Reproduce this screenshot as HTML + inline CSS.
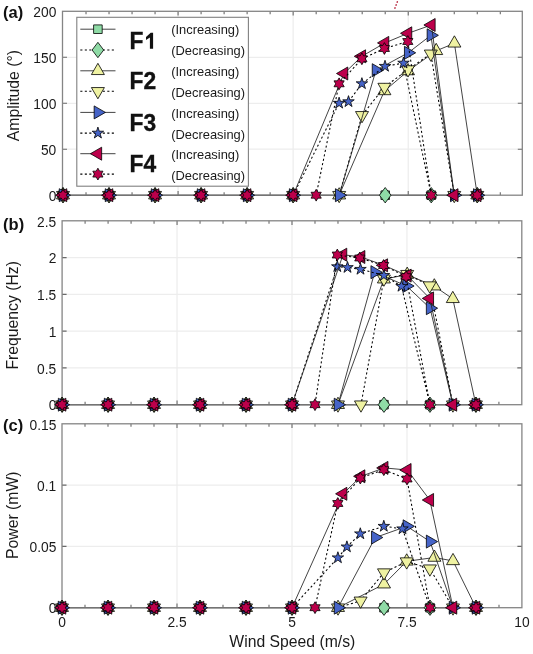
<!DOCTYPE html>
<html><head><meta charset="utf-8"><style>
html,body{margin:0;padding:0;background:#fff;width:533px;height:654px;overflow:hidden}
svg{display:block;filter:blur(0.3px);font-family:"Liberation Sans",sans-serif}
</style></head><body><svg width="533" height="654" viewBox="0 0 533 654" font-family="'Liberation Sans', sans-serif"><rect width="533" height="654" fill="#fff"/><path d="M178.07 11.3V195.2M293.15 11.3V195.2M408.23 11.3V195.2M62.5 149.22H522.3M62.5 103.25H522.3M62.5 57.28H522.3" stroke="#ededed" stroke-width="1.25" fill="none"/><path d="M177.05 220.8V404.7M292 220.8V404.7M406.95 220.8V404.7M62.1 367.92H521.8M62.1 331.14H521.8M62.1 294.36H521.8M62.1 257.58H521.8" stroke="#ededed" stroke-width="1.25" fill="none"/><path d="M177 423.8V607.7M292 423.8V607.7M407 423.8V607.7M62 546.4H521.9M62 485.1H521.9" stroke="#ededed" stroke-width="1.25" fill="none"/><path d="M86.02 11.3v3M86.02 195.2v-3M109.03 11.3v3M109.03 195.2v-3M132.05 11.3v3M132.05 195.2v-3M155.06 11.3v3M155.06 195.2v-3M178.07 11.3v4.2M178.07 195.2v-4.2M201.09 11.3v3M201.09 195.2v-3M224.11 11.3v3M224.11 195.2v-3M247.12 11.3v3M247.12 195.2v-3M270.13 11.3v3M270.13 195.2v-3M293.15 11.3v4.2M293.15 195.2v-4.2M316.17 11.3v3M316.17 195.2v-3M339.18 11.3v3M339.18 195.2v-3M362.19 11.3v3M362.19 195.2v-3M385.21 11.3v3M385.21 195.2v-3M408.23 11.3v4.2M408.23 195.2v-4.2M431.24 11.3v3M431.24 195.2v-3M454.25 11.3v3M454.25 195.2v-3M477.27 11.3v3M477.27 195.2v-3M500.29 11.3v3M500.29 195.2v-3M62.5 149.22h4.5M522.3 149.22h-4.5M62.5 103.25h4.5M522.3 103.25h-4.5M62.5 57.28h4.5M522.3 57.28h-4.5" stroke="#6a6a6a" stroke-width="1.1" fill="none"/><rect x="62.5" y="11.3" width="459.8" height="183.9" fill="none" stroke="#858585" stroke-width="1.3"/><path d="M62.5 195.2H477.27" stroke="#747474" stroke-width="1.4"/><path d="M85.09 220.8v3M85.09 404.7v-3M108.08 220.8v3M108.08 404.7v-3M131.07 220.8v3M131.07 404.7v-3M154.06 220.8v3M154.06 404.7v-3M177.05 220.8v4.2M177.05 404.7v-4.2M200.04 220.8v3M200.04 404.7v-3M223.03 220.8v3M223.03 404.7v-3M246.02 220.8v3M246.02 404.7v-3M269.01 220.8v3M269.01 404.7v-3M292 220.8v4.2M292 404.7v-4.2M314.99 220.8v3M314.99 404.7v-3M337.98 220.8v3M337.98 404.7v-3M360.97 220.8v3M360.97 404.7v-3M383.96 220.8v3M383.96 404.7v-3M406.95 220.8v4.2M406.95 404.7v-4.2M429.94 220.8v3M429.94 404.7v-3M452.93 220.8v3M452.93 404.7v-3M475.92 220.8v3M475.92 404.7v-3M498.91 220.8v3M498.91 404.7v-3M62.1 367.92h4.5M521.8 367.92h-4.5M62.1 331.14h4.5M521.8 331.14h-4.5M62.1 294.36h4.5M521.8 294.36h-4.5M62.1 257.58h4.5M521.8 257.58h-4.5" stroke="#6a6a6a" stroke-width="1.1" fill="none"/><rect x="62.1" y="220.8" width="459.7" height="183.9" fill="none" stroke="#858585" stroke-width="1.3"/><path d="M62.1 404.7H475.92" stroke="#747474" stroke-width="1.4"/><path d="M85 423.8v3M85 607.7v-3M108 423.8v3M108 607.7v-3M131 423.8v3M131 607.7v-3M154 423.8v3M154 607.7v-3M177 423.8v4.2M177 607.7v-4.2M200 423.8v3M200 607.7v-3M223 423.8v3M223 607.7v-3M246 423.8v3M246 607.7v-3M269 423.8v3M269 607.7v-3M292 423.8v4.2M292 607.7v-4.2M315 423.8v3M315 607.7v-3M338 423.8v3M338 607.7v-3M361 423.8v3M361 607.7v-3M384 423.8v3M384 607.7v-3M407 423.8v4.2M407 607.7v-4.2M430 423.8v3M430 607.7v-3M453 423.8v3M453 607.7v-3M476 423.8v3M476 607.7v-3M499 423.8v3M499 607.7v-3M62 546.4h4.5M521.9 546.4h-4.5M62 485.1h4.5M521.9 485.1h-4.5" stroke="#6a6a6a" stroke-width="1.1" fill="none"/><rect x="62" y="423.8" width="459.9" height="183.9" fill="none" stroke="#858585" stroke-width="1.3"/><path d="M62 607.7H476" stroke="#747474" stroke-width="1.4"/><g stroke="#000" stroke-width="0.8" stroke-linejoin="miter"><polygon points="58.7,190.9 67.3,190.9 67.3,199.5 58.7,199.5" fill="#8fdba6"/><polygon points="104.73,190.9 113.33,190.9 113.33,199.5 104.73,199.5" fill="#8fdba6"/><polygon points="150.76,190.9 159.36,190.9 159.36,199.5 150.76,199.5" fill="#8fdba6"/><polygon points="196.79,190.9 205.39,190.9 205.39,199.5 196.79,199.5" fill="#8fdba6"/><polygon points="242.82,190.9 251.42,190.9 251.42,199.5 242.82,199.5" fill="#8fdba6"/><polygon points="288.85,190.9 297.45,190.9 297.45,199.5 288.85,199.5" fill="#8fdba6"/><polygon points="380.91,190.9 389.51,190.9 389.51,199.5 380.91,199.5" fill="#8fdba6"/><polygon points="426.94,190.9 435.54,190.9 435.54,199.5 426.94,199.5" fill="#8fdba6"/><polygon points="472.97,190.9 481.57,190.9 481.57,199.5 472.97,199.5" fill="#8fdba6"/></g><g stroke="#000" stroke-width="0.8" stroke-linejoin="miter"><polygon points="477.27,187.5 483.07,195.2 477.27,202.9 471.47,195.2" fill="#8fdba6"/><polygon points="431.24,187.5 437.04,195.2 431.24,202.9 425.44,195.2" fill="#8fdba6"/><polygon points="385.21,187.5 391.01,195.2 385.21,202.9 379.41,195.2" fill="#8fdba6"/><polygon points="293.15,187.5 298.95,195.2 293.15,202.9 287.35,195.2" fill="#8fdba6"/><polygon points="247.12,187.5 252.92,195.2 247.12,202.9 241.32,195.2" fill="#8fdba6"/><polygon points="201.09,187.5 206.89,195.2 201.09,202.9 195.29,195.2" fill="#8fdba6"/><polygon points="155.06,187.5 160.86,195.2 155.06,202.9 149.26,195.2" fill="#8fdba6"/><polygon points="109.03,187.5 114.83,195.2 109.03,202.9 103.23,195.2" fill="#8fdba6"/><polygon points="63,187.5 68.8,195.2 63,202.9 57.2,195.2" fill="#8fdba6"/></g><polyline points="339.18,195.2 384.4,90.95 408,71 436.2,50.8 454.4,43.3 477.27,195.2" fill="none" stroke="#222" stroke-width="0.85"/><g stroke="#000" stroke-width="0.8" stroke-linejoin="miter"><polygon points="63,187.7 69.5,198.95 56.5,198.95" fill="#eff2a2"/><polygon points="109.03,187.7 115.53,198.95 102.53,198.95" fill="#eff2a2"/><polygon points="155.06,187.7 161.56,198.95 148.56,198.95" fill="#eff2a2"/><polygon points="201.09,187.7 207.59,198.95 194.59,198.95" fill="#eff2a2"/><polygon points="247.12,187.7 253.62,198.95 240.62,198.95" fill="#eff2a2"/><polygon points="293.15,187.7 299.65,198.95 286.65,198.95" fill="#eff2a2"/><polygon points="339.18,187.7 345.68,198.95 332.68,198.95" fill="#eff2a2"/><polygon points="384.4,83.45 390.9,94.7 377.9,94.7" fill="#eff2a2"/><polygon points="408,63.5 414.5,74.75 401.5,74.75" fill="#eff2a2"/><polygon points="436.2,43.3 442.7,54.55 429.7,54.55" fill="#eff2a2"/><polygon points="454.4,35.8 460.9,47.05 447.9,47.05" fill="#eff2a2"/><polygon points="477.27,187.7 483.77,198.95 470.77,198.95" fill="#eff2a2"/></g><polyline points="454.25,195.2 430.8,53.8 408,69.5 384.4,87.05 362,115.3 339.18,195.2" fill="none" stroke="#000" stroke-width="1.05" stroke-dasharray="2.1 2.4"/><g stroke="#000" stroke-width="0.8" stroke-linejoin="miter"><polygon points="477.27,202.7 470.77,191.45 483.77,191.45" fill="#eff2a2"/><polygon points="454.25,202.7 447.76,191.45 460.75,191.45" fill="#eff2a2"/><polygon points="430.8,61.3 424.3,50.05 437.3,50.05" fill="#eff2a2"/><polygon points="408,77 401.5,65.75 414.5,65.75" fill="#eff2a2"/><polygon points="384.4,94.55 377.9,83.3 390.9,83.3" fill="#eff2a2"/><polygon points="362,122.8 355.5,111.55 368.5,111.55" fill="#eff2a2"/><polygon points="339.18,202.7 332.68,191.45 345.68,191.45" fill="#eff2a2"/><polygon points="293.15,202.7 286.65,191.45 299.65,191.45" fill="#eff2a2"/><polygon points="247.12,202.7 240.62,191.45 253.62,191.45" fill="#eff2a2"/><polygon points="201.09,202.7 194.59,191.45 207.59,191.45" fill="#eff2a2"/><polygon points="155.06,202.7 148.56,191.45 161.56,191.45" fill="#eff2a2"/><polygon points="109.03,202.7 102.53,191.45 115.53,191.45" fill="#eff2a2"/><polygon points="63,202.7 56.5,191.45 69.5,191.45" fill="#eff2a2"/></g><polyline points="339.18,195.2 376,70.2 408.2,52.8 430.9,35.3 454.25,195.2" fill="none" stroke="#222" stroke-width="0.85"/><g stroke="#000" stroke-width="0.8" stroke-linejoin="miter"><polygon points="70.5,195.2 59.25,201.7 59.25,188.7" fill="#4664c8"/><polygon points="116.53,195.2 105.28,201.7 105.28,188.7" fill="#4664c8"/><polygon points="162.56,195.2 151.31,201.7 151.31,188.7" fill="#4664c8"/><polygon points="208.59,195.2 197.34,201.7 197.34,188.7" fill="#4664c8"/><polygon points="254.62,195.2 243.37,201.7 243.37,188.7" fill="#4664c8"/><polygon points="300.65,195.2 289.4,201.7 289.4,188.7" fill="#4664c8"/><polygon points="346.68,195.2 335.43,201.7 335.43,188.7" fill="#4664c8"/><polygon points="383.5,70.2 372.25,76.7 372.25,63.7" fill="#4664c8"/><polygon points="415.7,52.8 404.45,59.3 404.45,46.3" fill="#4664c8"/><polygon points="438.4,35.3 427.15,41.8 427.15,28.8" fill="#4664c8"/><polygon points="461.75,195.2 450.5,201.7 450.5,188.7" fill="#4664c8"/><polygon points="484.77,195.2 473.52,201.7 473.52,188.7" fill="#4664c8"/></g><polyline points="431.24,195.2 403.5,63.1 385,66.3 361.9,83.7 348.5,101.7 339.1,103.2 293.15,195.2" fill="none" stroke="#000" stroke-width="1.05" stroke-dasharray="2.1 2.4"/><g stroke="#000" stroke-width="0.8" stroke-linejoin="miter"><polygon points="477.27,189.15 478.63,193.33 483.02,193.33 479.47,195.91 480.83,200.09 477.27,197.51 473.71,200.09 475.07,195.91 471.52,193.33 475.91,193.33" fill="#4664c8"/><polygon points="454.25,189.15 455.61,193.33 460.01,193.33 456.45,195.91 457.81,200.09 454.25,197.51 450.7,200.09 452.06,195.91 448.5,193.33 452.9,193.33" fill="#4664c8"/><polygon points="403.5,57.05 404.86,61.23 409.25,61.23 405.7,63.81 407.06,67.99 403.5,65.41 399.94,67.99 401.3,63.81 397.75,61.23 402.14,61.23" fill="#4664c8"/><polygon points="385,60.25 386.36,64.43 390.75,64.43 387.2,67.01 388.56,71.19 385,68.61 381.44,71.19 382.8,67.01 379.25,64.43 383.64,64.43" fill="#4664c8"/><polygon points="361.9,77.65 363.26,81.83 367.65,81.83 364.1,84.41 365.46,88.59 361.9,86.01 358.34,88.59 359.7,84.41 356.15,81.83 360.54,81.83" fill="#4664c8"/><polygon points="348.5,95.65 349.86,99.83 354.25,99.83 350.7,102.41 352.06,106.59 348.5,104.01 344.94,106.59 346.3,102.41 342.75,99.83 347.14,99.83" fill="#4664c8"/><polygon points="339.1,97.15 340.46,101.33 344.85,101.33 341.3,103.91 342.66,108.09 339.1,105.51 335.54,108.09 336.9,103.91 333.35,101.33 337.74,101.33" fill="#4664c8"/><polygon points="293.15,189.15 294.51,193.33 298.9,193.33 295.35,195.91 296.71,200.09 293.15,197.51 289.59,200.09 290.95,195.91 287.4,193.33 291.79,193.33" fill="#4664c8"/><polygon points="247.12,189.15 248.48,193.33 252.87,193.33 249.32,195.91 250.68,200.09 247.12,197.51 243.56,200.09 244.92,195.91 241.37,193.33 245.76,193.33" fill="#4664c8"/><polygon points="201.09,189.15 202.45,193.33 206.84,193.33 203.29,195.91 204.65,200.09 201.09,197.51 197.53,200.09 198.89,195.91 195.34,193.33 199.73,193.33" fill="#4664c8"/><polygon points="155.06,189.15 156.42,193.33 160.81,193.33 157.26,195.91 158.62,200.09 155.06,197.51 151.5,200.09 152.86,195.91 149.31,193.33 153.7,193.33" fill="#4664c8"/><polygon points="109.03,189.15 110.39,193.33 114.78,193.33 111.23,195.91 112.59,200.09 109.03,197.51 105.47,200.09 106.83,195.91 103.28,193.33 107.67,193.33" fill="#4664c8"/><polygon points="63,189.15 64.36,193.33 68.75,193.33 65.2,195.91 66.56,200.09 63,197.51 59.44,200.09 60.8,195.91 57.25,193.33 61.64,193.33" fill="#4664c8"/></g><polyline points="293.15,195.2 344,73.5 361.8,56.3 385,42.9 408,33.3 431.4,25 454.25,195.2" fill="none" stroke="#222" stroke-width="0.85"/><g stroke="#000" stroke-width="0.8" stroke-linejoin="miter"><polygon points="55.5,195.2 66.75,188.7 66.75,201.7" fill="#bc004b"/><polygon points="101.53,195.2 112.78,188.7 112.78,201.7" fill="#bc004b"/><polygon points="147.56,195.2 158.81,188.7 158.81,201.7" fill="#bc004b"/><polygon points="193.59,195.2 204.84,188.7 204.84,201.7" fill="#bc004b"/><polygon points="239.62,195.2 250.87,188.7 250.87,201.7" fill="#bc004b"/><polygon points="285.65,195.2 296.9,188.7 296.9,201.7" fill="#bc004b"/><polygon points="336.5,73.5 347.75,67 347.75,80" fill="#bc004b"/><polygon points="354.3,56.3 365.55,49.8 365.55,62.8" fill="#bc004b"/><polygon points="377.5,42.9 388.75,36.4 388.75,49.4" fill="#bc004b"/><polygon points="400.5,33.3 411.75,26.8 411.75,39.8" fill="#bc004b"/><polygon points="423.9,25 435.15,18.5 435.15,31.5" fill="#bc004b"/><polygon points="446.75,195.2 458,188.7 458,201.7" fill="#bc004b"/><polygon points="469.77,195.2 481.02,188.7 481.02,201.7" fill="#bc004b"/></g><polyline points="431.24,195.2 407.8,41.5 384.4,48.5 361.9,58.8 339.1,83.8 316.17,195.2" fill="none" stroke="#000" stroke-width="1.05" stroke-dasharray="2.1 2.4"/><g stroke="#000" stroke-width="0.8" stroke-linejoin="miter"><polygon points="477.27,189.3 478.97,192.25 482.38,192.25 480.68,195.2 482.38,198.15 478.97,198.15 477.27,201.1 475.57,198.15 472.16,198.15 473.86,195.2 472.16,192.25 475.57,192.25" fill="#bc004b"/><polygon points="431.24,189.3 432.94,192.25 436.35,192.25 434.65,195.2 436.35,198.15 432.94,198.15 431.24,201.1 429.54,198.15 426.13,198.15 427.83,195.2 426.13,192.25 429.54,192.25" fill="#bc004b"/><polygon points="407.8,35.6 409.5,38.55 412.91,38.55 411.21,41.5 412.91,44.45 409.5,44.45 407.8,47.4 406.1,44.45 402.69,44.45 404.39,41.5 402.69,38.55 406.1,38.55" fill="#bc004b"/><polygon points="384.4,42.6 386.1,45.55 389.51,45.55 387.81,48.5 389.51,51.45 386.1,51.45 384.4,54.4 382.7,51.45 379.29,51.45 380.99,48.5 379.29,45.55 382.7,45.55" fill="#bc004b"/><polygon points="361.9,52.9 363.6,55.85 367.01,55.85 365.31,58.8 367.01,61.75 363.6,61.75 361.9,64.7 360.2,61.75 356.79,61.75 358.49,58.8 356.79,55.85 360.2,55.85" fill="#bc004b"/><polygon points="339.1,77.9 340.8,80.85 344.21,80.85 342.51,83.8 344.21,86.75 340.8,86.75 339.1,89.7 337.4,86.75 333.99,86.75 335.69,83.8 333.99,80.85 337.4,80.85" fill="#bc004b"/><polygon points="316.17,189.3 317.87,192.25 321.27,192.25 319.57,195.2 321.27,198.15 317.87,198.15 316.17,201.1 314.46,198.15 311.06,198.15 312.76,195.2 311.06,192.25 314.46,192.25" fill="#bc004b"/><polygon points="293.15,189.3 294.85,192.25 298.26,192.25 296.56,195.2 298.26,198.15 294.85,198.15 293.15,201.1 291.45,198.15 288.04,198.15 289.74,195.2 288.04,192.25 291.45,192.25" fill="#bc004b"/><polygon points="247.12,189.3 248.82,192.25 252.23,192.25 250.53,195.2 252.23,198.15 248.82,198.15 247.12,201.1 245.42,198.15 242.01,198.15 243.71,195.2 242.01,192.25 245.42,192.25" fill="#bc004b"/><polygon points="201.09,189.3 202.79,192.25 206.2,192.25 204.5,195.2 206.2,198.15 202.79,198.15 201.09,201.1 199.39,198.15 195.98,198.15 197.68,195.2 195.98,192.25 199.39,192.25" fill="#bc004b"/><polygon points="155.06,189.3 156.76,192.25 160.17,192.25 158.47,195.2 160.17,198.15 156.76,198.15 155.06,201.1 153.36,198.15 149.95,198.15 151.65,195.2 149.95,192.25 153.36,192.25" fill="#bc004b"/><polygon points="109.03,189.3 110.73,192.25 114.14,192.25 112.44,195.2 114.14,198.15 110.73,198.15 109.03,201.1 107.33,198.15 103.92,198.15 105.62,195.2 103.92,192.25 107.33,192.25" fill="#bc004b"/><polygon points="63,189.3 64.7,192.25 68.11,192.25 66.41,195.2 68.11,198.15 64.7,198.15 63,201.1 61.3,198.15 57.89,198.15 59.59,195.2 57.89,192.25 61.3,192.25" fill="#bc004b"/></g><g stroke="#000" stroke-width="0.8" stroke-linejoin="miter"><polygon points="57.8,400.4 66.4,400.4 66.4,409 57.8,409" fill="#8fdba6"/><polygon points="103.78,400.4 112.38,400.4 112.38,409 103.78,409" fill="#8fdba6"/><polygon points="149.76,400.4 158.36,400.4 158.36,409 149.76,409" fill="#8fdba6"/><polygon points="195.74,400.4 204.34,400.4 204.34,409 195.74,409" fill="#8fdba6"/><polygon points="241.72,400.4 250.32,400.4 250.32,409 241.72,409" fill="#8fdba6"/><polygon points="287.7,400.4 296.3,400.4 296.3,409 287.7,409" fill="#8fdba6"/><polygon points="379.66,400.4 388.26,400.4 388.26,409 379.66,409" fill="#8fdba6"/><polygon points="425.64,400.4 434.24,400.4 434.24,409 425.64,409" fill="#8fdba6"/><polygon points="471.62,400.4 480.22,400.4 480.22,409 471.62,409" fill="#8fdba6"/></g><g stroke="#000" stroke-width="0.8" stroke-linejoin="miter"><polygon points="475.92,397 481.72,404.7 475.92,412.4 470.12,404.7" fill="#8fdba6"/><polygon points="429.94,397 435.74,404.7 429.94,412.4 424.14,404.7" fill="#8fdba6"/><polygon points="383.96,397 389.76,404.7 383.96,412.4 378.16,404.7" fill="#8fdba6"/><polygon points="292,397 297.8,404.7 292,412.4 286.2,404.7" fill="#8fdba6"/><polygon points="246.02,397 251.82,404.7 246.02,412.4 240.22,404.7" fill="#8fdba6"/><polygon points="200.04,397 205.84,404.7 200.04,412.4 194.24,404.7" fill="#8fdba6"/><polygon points="154.06,397 159.86,404.7 154.06,412.4 148.26,404.7" fill="#8fdba6"/><polygon points="108.08,397 113.88,404.7 108.08,412.4 102.28,404.7" fill="#8fdba6"/><polygon points="62.1,397 67.9,404.7 62.1,412.4 56.3,404.7" fill="#8fdba6"/></g><polyline points="337.98,404.7 383.9,279.2 407.2,274.6 434.3,286.2 452.8,298.8 475.92,404.7" fill="none" stroke="#222" stroke-width="0.85"/><g stroke="#000" stroke-width="0.8" stroke-linejoin="miter"><polygon points="62.1,397.2 68.6,408.45 55.6,408.45" fill="#eff2a2"/><polygon points="108.08,397.2 114.58,408.45 101.58,408.45" fill="#eff2a2"/><polygon points="154.06,397.2 160.56,408.45 147.56,408.45" fill="#eff2a2"/><polygon points="200.04,397.2 206.54,408.45 193.54,408.45" fill="#eff2a2"/><polygon points="246.02,397.2 252.52,408.45 239.52,408.45" fill="#eff2a2"/><polygon points="292,397.2 298.5,408.45 285.5,408.45" fill="#eff2a2"/><polygon points="337.98,397.2 344.48,408.45 331.48,408.45" fill="#eff2a2"/><polygon points="383.9,271.7 390.4,282.95 377.4,282.95" fill="#eff2a2"/><polygon points="407.2,267.1 413.7,278.35 400.7,278.35" fill="#eff2a2"/><polygon points="434.3,278.7 440.8,289.95 427.8,289.95" fill="#eff2a2"/><polygon points="452.8,291.3 459.3,302.55 446.3,302.55" fill="#eff2a2"/><polygon points="475.92,397.2 482.42,408.45 469.42,408.45" fill="#eff2a2"/></g><polyline points="452.93,404.7 429.7,285.6 407.2,274.2 383.9,278.8 360.97,404.7" fill="none" stroke="#000" stroke-width="1.05" stroke-dasharray="2.1 2.4"/><g stroke="#000" stroke-width="0.8" stroke-linejoin="miter"><polygon points="475.92,412.2 469.42,400.95 482.42,400.95" fill="#eff2a2"/><polygon points="452.93,412.2 446.43,400.95 459.43,400.95" fill="#eff2a2"/><polygon points="429.7,293.1 423.2,281.85 436.2,281.85" fill="#eff2a2"/><polygon points="407.2,281.7 400.7,270.45 413.7,270.45" fill="#eff2a2"/><polygon points="383.9,286.3 377.4,275.05 390.4,275.05" fill="#eff2a2"/><polygon points="360.97,412.2 354.47,400.95 367.47,400.95" fill="#eff2a2"/><polygon points="337.98,412.2 331.48,400.95 344.48,400.95" fill="#eff2a2"/><polygon points="292,412.2 285.5,400.95 298.5,400.95" fill="#eff2a2"/><polygon points="246.02,412.2 239.52,400.95 252.52,400.95" fill="#eff2a2"/><polygon points="200.04,412.2 193.54,400.95 206.54,400.95" fill="#eff2a2"/><polygon points="154.06,412.2 147.56,400.95 160.56,400.95" fill="#eff2a2"/><polygon points="108.08,412.2 101.58,400.95 114.58,400.95" fill="#eff2a2"/><polygon points="62.1,412.2 55.6,400.95 68.6,400.95" fill="#eff2a2"/></g><polyline points="337.98,404.7 374.7,272.2 406.6,286 430.1,308.2 452.93,404.7" fill="none" stroke="#222" stroke-width="0.85"/><g stroke="#000" stroke-width="0.8" stroke-linejoin="miter"><polygon points="69.6,404.7 58.35,411.2 58.35,398.2" fill="#4664c8"/><polygon points="115.58,404.7 104.33,411.2 104.33,398.2" fill="#4664c8"/><polygon points="161.56,404.7 150.31,411.2 150.31,398.2" fill="#4664c8"/><polygon points="207.54,404.7 196.29,411.2 196.29,398.2" fill="#4664c8"/><polygon points="253.52,404.7 242.27,411.2 242.27,398.2" fill="#4664c8"/><polygon points="299.5,404.7 288.25,411.2 288.25,398.2" fill="#4664c8"/><polygon points="345.48,404.7 334.23,411.2 334.23,398.2" fill="#4664c8"/><polygon points="382.2,272.2 370.95,278.7 370.95,265.7" fill="#4664c8"/><polygon points="414.1,286 402.85,292.5 402.85,279.5" fill="#4664c8"/><polygon points="437.6,308.2 426.35,314.7 426.35,301.7" fill="#4664c8"/><polygon points="460.43,404.7 449.18,411.2 449.18,398.2" fill="#4664c8"/><polygon points="483.42,404.7 472.17,411.2 472.17,398.2" fill="#4664c8"/></g><polyline points="429.94,404.7 401.5,286.3 383.9,275.4 360.5,269.3 347.5,267.5 337.3,266.7 292,404.7" fill="none" stroke="#000" stroke-width="1.05" stroke-dasharray="2.1 2.4"/><g stroke="#000" stroke-width="0.8" stroke-linejoin="miter"><polygon points="475.92,398.65 477.28,402.83 481.67,402.83 478.12,405.41 479.48,409.59 475.92,407.01 472.36,409.59 473.72,405.41 470.17,402.83 474.56,402.83" fill="#4664c8"/><polygon points="452.93,398.65 454.29,402.83 458.68,402.83 455.13,405.41 456.49,409.59 452.93,407.01 449.37,409.59 450.73,405.41 447.18,402.83 451.57,402.83" fill="#4664c8"/><polygon points="401.5,280.25 402.86,284.43 407.25,284.43 403.7,287.01 405.06,291.19 401.5,288.61 397.94,291.19 399.3,287.01 395.75,284.43 400.14,284.43" fill="#4664c8"/><polygon points="383.9,269.35 385.26,273.53 389.65,273.53 386.1,276.11 387.46,280.29 383.9,277.71 380.34,280.29 381.7,276.11 378.15,273.53 382.54,273.53" fill="#4664c8"/><polygon points="360.5,263.25 361.86,267.43 366.25,267.43 362.7,270.01 364.06,274.19 360.5,271.61 356.94,274.19 358.3,270.01 354.75,267.43 359.14,267.43" fill="#4664c8"/><polygon points="347.5,261.45 348.86,265.63 353.25,265.63 349.7,268.21 351.06,272.39 347.5,269.81 343.94,272.39 345.3,268.21 341.75,265.63 346.14,265.63" fill="#4664c8"/><polygon points="337.3,260.65 338.66,264.83 343.05,264.83 339.5,267.41 340.86,271.59 337.3,269.01 333.74,271.59 335.1,267.41 331.55,264.83 335.94,264.83" fill="#4664c8"/><polygon points="292,398.65 293.36,402.83 297.75,402.83 294.2,405.41 295.56,409.59 292,407.01 288.44,409.59 289.8,405.41 286.25,402.83 290.64,402.83" fill="#4664c8"/><polygon points="246.02,398.65 247.38,402.83 251.77,402.83 248.22,405.41 249.58,409.59 246.02,407.01 242.46,409.59 243.82,405.41 240.27,402.83 244.66,402.83" fill="#4664c8"/><polygon points="200.04,398.65 201.4,402.83 205.79,402.83 202.24,405.41 203.6,409.59 200.04,407.01 196.48,409.59 197.84,405.41 194.29,402.83 198.68,402.83" fill="#4664c8"/><polygon points="154.06,398.65 155.42,402.83 159.81,402.83 156.26,405.41 157.62,409.59 154.06,407.01 150.5,409.59 151.86,405.41 148.31,402.83 152.7,402.83" fill="#4664c8"/><polygon points="108.08,398.65 109.44,402.83 113.83,402.83 110.28,405.41 111.64,409.59 108.08,407.01 104.52,409.59 105.88,405.41 102.33,402.83 106.72,402.83" fill="#4664c8"/><polygon points="62.1,398.65 63.46,402.83 67.85,402.83 64.3,405.41 65.66,409.59 62.1,407.01 58.54,409.59 59.9,405.41 56.35,402.83 60.74,402.83" fill="#4664c8"/></g><polyline points="292,404.7 343,254.7 361.1,257 383.8,265.3 407.4,275.6 429.8,298.4 452.93,404.7" fill="none" stroke="#222" stroke-width="0.85"/><g stroke="#000" stroke-width="0.8" stroke-linejoin="miter"><polygon points="54.6,404.7 65.85,398.2 65.85,411.2" fill="#bc004b"/><polygon points="100.58,404.7 111.83,398.2 111.83,411.2" fill="#bc004b"/><polygon points="146.56,404.7 157.81,398.2 157.81,411.2" fill="#bc004b"/><polygon points="192.54,404.7 203.79,398.2 203.79,411.2" fill="#bc004b"/><polygon points="238.52,404.7 249.77,398.2 249.77,411.2" fill="#bc004b"/><polygon points="284.5,404.7 295.75,398.2 295.75,411.2" fill="#bc004b"/><polygon points="335.5,254.7 346.75,248.2 346.75,261.2" fill="#bc004b"/><polygon points="353.6,257 364.85,250.5 364.85,263.5" fill="#bc004b"/><polygon points="376.3,265.3 387.55,258.8 387.55,271.8" fill="#bc004b"/><polygon points="399.9,275.6 411.15,269.1 411.15,282.1" fill="#bc004b"/><polygon points="422.3,298.4 433.55,291.9 433.55,304.9" fill="#bc004b"/><polygon points="445.43,404.7 456.68,398.2 456.68,411.2" fill="#bc004b"/><polygon points="468.42,404.7 479.67,398.2 479.67,411.2" fill="#bc004b"/></g><polyline points="429.94,404.7 406.1,276.7 383.6,265.5 359.8,258 337.3,255 314.99,404.7" fill="none" stroke="#000" stroke-width="1.05" stroke-dasharray="2.1 2.4"/><g stroke="#000" stroke-width="0.8" stroke-linejoin="miter"><polygon points="475.92,398.8 477.62,401.75 481.03,401.75 479.33,404.7 481.03,407.65 477.62,407.65 475.92,410.6 474.22,407.65 470.81,407.65 472.51,404.7 470.81,401.75 474.22,401.75" fill="#bc004b"/><polygon points="429.94,398.8 431.64,401.75 435.05,401.75 433.35,404.7 435.05,407.65 431.64,407.65 429.94,410.6 428.24,407.65 424.83,407.65 426.53,404.7 424.83,401.75 428.24,401.75" fill="#bc004b"/><polygon points="406.1,270.8 407.8,273.75 411.21,273.75 409.51,276.7 411.21,279.65 407.8,279.65 406.1,282.6 404.4,279.65 400.99,279.65 402.69,276.7 400.99,273.75 404.4,273.75" fill="#bc004b"/><polygon points="383.6,259.6 385.3,262.55 388.71,262.55 387.01,265.5 388.71,268.45 385.3,268.45 383.6,271.4 381.9,268.45 378.49,268.45 380.19,265.5 378.49,262.55 381.9,262.55" fill="#bc004b"/><polygon points="359.8,252.1 361.5,255.05 364.91,255.05 363.21,258 364.91,260.95 361.5,260.95 359.8,263.9 358.1,260.95 354.69,260.95 356.39,258 354.69,255.05 358.1,255.05" fill="#bc004b"/><polygon points="337.3,249.1 339,252.05 342.41,252.05 340.71,255 342.41,257.95 339,257.95 337.3,260.9 335.6,257.95 332.19,257.95 333.89,255 332.19,252.05 335.6,252.05" fill="#bc004b"/><polygon points="314.99,398.8 316.69,401.75 320.1,401.75 318.4,404.7 320.1,407.65 316.69,407.65 314.99,410.6 313.29,407.65 309.88,407.65 311.58,404.7 309.88,401.75 313.29,401.75" fill="#bc004b"/><polygon points="292,398.8 293.7,401.75 297.11,401.75 295.41,404.7 297.11,407.65 293.7,407.65 292,410.6 290.3,407.65 286.89,407.65 288.59,404.7 286.89,401.75 290.3,401.75" fill="#bc004b"/><polygon points="246.02,398.8 247.72,401.75 251.13,401.75 249.43,404.7 251.13,407.65 247.72,407.65 246.02,410.6 244.32,407.65 240.91,407.65 242.61,404.7 240.91,401.75 244.32,401.75" fill="#bc004b"/><polygon points="200.04,398.8 201.74,401.75 205.15,401.75 203.45,404.7 205.15,407.65 201.74,407.65 200.04,410.6 198.34,407.65 194.93,407.65 196.63,404.7 194.93,401.75 198.34,401.75" fill="#bc004b"/><polygon points="154.06,398.8 155.76,401.75 159.17,401.75 157.47,404.7 159.17,407.65 155.76,407.65 154.06,410.6 152.36,407.65 148.95,407.65 150.65,404.7 148.95,401.75 152.36,401.75" fill="#bc004b"/><polygon points="108.08,398.8 109.78,401.75 113.19,401.75 111.49,404.7 113.19,407.65 109.78,407.65 108.08,410.6 106.38,407.65 102.97,407.65 104.67,404.7 102.97,401.75 106.38,401.75" fill="#bc004b"/><polygon points="62.1,398.8 63.8,401.75 67.21,401.75 65.51,404.7 67.21,407.65 63.8,407.65 62.1,410.6 60.4,407.65 56.99,407.65 58.69,404.7 56.99,401.75 60.4,401.75" fill="#bc004b"/></g><g stroke="#000" stroke-width="0.8" stroke-linejoin="miter"><polygon points="57.7,603.4 66.3,603.4 66.3,612 57.7,612" fill="#8fdba6"/><polygon points="103.7,603.4 112.3,603.4 112.3,612 103.7,612" fill="#8fdba6"/><polygon points="149.7,603.4 158.3,603.4 158.3,612 149.7,612" fill="#8fdba6"/><polygon points="195.7,603.4 204.3,603.4 204.3,612 195.7,612" fill="#8fdba6"/><polygon points="241.7,603.4 250.3,603.4 250.3,612 241.7,612" fill="#8fdba6"/><polygon points="287.7,603.4 296.3,603.4 296.3,612 287.7,612" fill="#8fdba6"/><polygon points="379.7,603.4 388.3,603.4 388.3,612 379.7,612" fill="#8fdba6"/><polygon points="425.7,603.4 434.3,603.4 434.3,612 425.7,612" fill="#8fdba6"/><polygon points="471.7,603.4 480.3,603.4 480.3,612 471.7,612" fill="#8fdba6"/></g><g stroke="#000" stroke-width="0.8" stroke-linejoin="miter"><polygon points="476,600 481.8,607.7 476,615.4 470.2,607.7" fill="#8fdba6"/><polygon points="430,600 435.8,607.7 430,615.4 424.2,607.7" fill="#8fdba6"/><polygon points="384,600 389.8,607.7 384,615.4 378.2,607.7" fill="#8fdba6"/><polygon points="292,600 297.8,607.7 292,615.4 286.2,607.7" fill="#8fdba6"/><polygon points="246,600 251.8,607.7 246,615.4 240.2,607.7" fill="#8fdba6"/><polygon points="200,600 205.8,607.7 200,615.4 194.2,607.7" fill="#8fdba6"/><polygon points="154,600 159.8,607.7 154,615.4 148.2,607.7" fill="#8fdba6"/><polygon points="108,600 113.8,607.7 108,615.4 102.2,607.7" fill="#8fdba6"/><polygon points="62,600 67.8,607.7 62,615.4 56.2,607.7" fill="#8fdba6"/></g><polyline points="338,607.7 384,584.2 406.7,561.3 434.4,557.5 453,560.9 476,607.7" fill="none" stroke="#222" stroke-width="0.85"/><g stroke="#000" stroke-width="0.8" stroke-linejoin="miter"><polygon points="62,600.2 68.5,611.45 55.5,611.45" fill="#eff2a2"/><polygon points="108,600.2 114.5,611.45 101.5,611.45" fill="#eff2a2"/><polygon points="154,600.2 160.5,611.45 147.5,611.45" fill="#eff2a2"/><polygon points="200,600.2 206.5,611.45 193.5,611.45" fill="#eff2a2"/><polygon points="246,600.2 252.5,611.45 239.5,611.45" fill="#eff2a2"/><polygon points="292,600.2 298.5,611.45 285.5,611.45" fill="#eff2a2"/><polygon points="338,600.2 344.5,611.45 331.5,611.45" fill="#eff2a2"/><polygon points="384,576.7 390.5,587.95 377.5,587.95" fill="#eff2a2"/><polygon points="406.7,553.8 413.2,565.05 400.2,565.05" fill="#eff2a2"/><polygon points="434.4,550 440.9,561.25 427.9,561.25" fill="#eff2a2"/><polygon points="453,553.4 459.5,564.65 446.5,564.65" fill="#eff2a2"/><polygon points="476,600.2 482.5,611.45 469.5,611.45" fill="#eff2a2"/></g><polyline points="453,607.7 429.9,568.7 406.7,561.6 384,572.6 360.6,600.8 338,607.7" fill="none" stroke="#000" stroke-width="1.05" stroke-dasharray="2.1 2.4"/><g stroke="#000" stroke-width="0.8" stroke-linejoin="miter"><polygon points="476,615.2 469.5,603.95 482.5,603.95" fill="#eff2a2"/><polygon points="453,615.2 446.5,603.95 459.5,603.95" fill="#eff2a2"/><polygon points="429.9,576.2 423.4,564.95 436.4,564.95" fill="#eff2a2"/><polygon points="406.7,569.1 400.2,557.85 413.2,557.85" fill="#eff2a2"/><polygon points="384,580.1 377.5,568.85 390.5,568.85" fill="#eff2a2"/><polygon points="360.6,608.3 354.1,597.05 367.1,597.05" fill="#eff2a2"/><polygon points="338,615.2 331.5,603.95 344.5,603.95" fill="#eff2a2"/><polygon points="292,615.2 285.5,603.95 298.5,603.95" fill="#eff2a2"/><polygon points="246,615.2 239.5,603.95 252.5,603.95" fill="#eff2a2"/><polygon points="200,615.2 193.5,603.95 206.5,603.95" fill="#eff2a2"/><polygon points="154,615.2 147.5,603.95 160.5,603.95" fill="#eff2a2"/><polygon points="108,615.2 101.5,603.95 114.5,603.95" fill="#eff2a2"/><polygon points="62,615.2 55.5,603.95 68.5,603.95" fill="#eff2a2"/></g><polyline points="338,607.7 375.3,537.5 406.9,526.3 430.1,541.6 453,607.7" fill="none" stroke="#222" stroke-width="0.85"/><g stroke="#000" stroke-width="0.8" stroke-linejoin="miter"><polygon points="69.5,607.7 58.25,614.2 58.25,601.2" fill="#4664c8"/><polygon points="115.5,607.7 104.25,614.2 104.25,601.2" fill="#4664c8"/><polygon points="161.5,607.7 150.25,614.2 150.25,601.2" fill="#4664c8"/><polygon points="207.5,607.7 196.25,614.2 196.25,601.2" fill="#4664c8"/><polygon points="253.5,607.7 242.25,614.2 242.25,601.2" fill="#4664c8"/><polygon points="299.5,607.7 288.25,614.2 288.25,601.2" fill="#4664c8"/><polygon points="345.5,607.7 334.25,614.2 334.25,601.2" fill="#4664c8"/><polygon points="382.8,537.5 371.55,544 371.55,531" fill="#4664c8"/><polygon points="414.4,526.3 403.15,532.8 403.15,519.8" fill="#4664c8"/><polygon points="437.6,541.6 426.35,548.1 426.35,535.1" fill="#4664c8"/><polygon points="460.5,607.7 449.25,614.2 449.25,601.2" fill="#4664c8"/><polygon points="483.5,607.7 472.25,614.2 472.25,601.2" fill="#4664c8"/></g><polyline points="430,607.7 402.5,528.8 383.8,526.3 360.3,533.8 346.9,546.9 337.9,557.8 292,607.7" fill="none" stroke="#000" stroke-width="1.05" stroke-dasharray="2.1 2.4"/><g stroke="#000" stroke-width="0.8" stroke-linejoin="miter"><polygon points="476,601.65 477.36,605.83 481.75,605.83 478.2,608.41 479.56,612.59 476,610.01 472.44,612.59 473.8,608.41 470.25,605.83 474.64,605.83" fill="#4664c8"/><polygon points="453,601.65 454.36,605.83 458.75,605.83 455.2,608.41 456.56,612.59 453,610.01 449.44,612.59 450.8,608.41 447.25,605.83 451.64,605.83" fill="#4664c8"/><polygon points="402.5,522.75 403.86,526.93 408.25,526.93 404.7,529.51 406.06,533.69 402.5,531.11 398.94,533.69 400.3,529.51 396.75,526.93 401.14,526.93" fill="#4664c8"/><polygon points="383.8,520.25 385.16,524.43 389.55,524.43 386,527.01 387.36,531.19 383.8,528.61 380.24,531.19 381.6,527.01 378.05,524.43 382.44,524.43" fill="#4664c8"/><polygon points="360.3,527.75 361.66,531.93 366.05,531.93 362.5,534.51 363.86,538.69 360.3,536.11 356.74,538.69 358.1,534.51 354.55,531.93 358.94,531.93" fill="#4664c8"/><polygon points="346.9,540.85 348.26,545.03 352.65,545.03 349.1,547.61 350.46,551.79 346.9,549.21 343.34,551.79 344.7,547.61 341.15,545.03 345.54,545.03" fill="#4664c8"/><polygon points="337.9,551.75 339.26,555.93 343.65,555.93 340.1,558.51 341.46,562.69 337.9,560.11 334.34,562.69 335.7,558.51 332.15,555.93 336.54,555.93" fill="#4664c8"/><polygon points="292,601.65 293.36,605.83 297.75,605.83 294.2,608.41 295.56,612.59 292,610.01 288.44,612.59 289.8,608.41 286.25,605.83 290.64,605.83" fill="#4664c8"/><polygon points="246,601.65 247.36,605.83 251.75,605.83 248.2,608.41 249.56,612.59 246,610.01 242.44,612.59 243.8,608.41 240.25,605.83 244.64,605.83" fill="#4664c8"/><polygon points="200,601.65 201.36,605.83 205.75,605.83 202.2,608.41 203.56,612.59 200,610.01 196.44,612.59 197.8,608.41 194.25,605.83 198.64,605.83" fill="#4664c8"/><polygon points="154,601.65 155.36,605.83 159.75,605.83 156.2,608.41 157.56,612.59 154,610.01 150.44,612.59 151.8,608.41 148.25,605.83 152.64,605.83" fill="#4664c8"/><polygon points="108,601.65 109.36,605.83 113.75,605.83 110.2,608.41 111.56,612.59 108,610.01 104.44,612.59 105.8,608.41 102.25,605.83 106.64,605.83" fill="#4664c8"/><polygon points="62,601.65 63.36,605.83 67.75,605.83 64.2,608.41 65.56,612.59 62,610.01 58.44,612.59 59.8,608.41 56.25,605.83 60.64,605.83" fill="#4664c8"/></g><polyline points="292,607.7 343.1,493.8 361.1,476.3 384.2,467.9 407.3,470 429.8,500 453,607.7" fill="none" stroke="#222" stroke-width="0.85"/><g stroke="#000" stroke-width="0.8" stroke-linejoin="miter"><polygon points="54.5,607.7 65.75,601.2 65.75,614.2" fill="#bc004b"/><polygon points="100.5,607.7 111.75,601.2 111.75,614.2" fill="#bc004b"/><polygon points="146.5,607.7 157.75,601.2 157.75,614.2" fill="#bc004b"/><polygon points="192.5,607.7 203.75,601.2 203.75,614.2" fill="#bc004b"/><polygon points="238.5,607.7 249.75,601.2 249.75,614.2" fill="#bc004b"/><polygon points="284.5,607.7 295.75,601.2 295.75,614.2" fill="#bc004b"/><polygon points="335.6,493.8 346.85,487.3 346.85,500.3" fill="#bc004b"/><polygon points="353.6,476.3 364.85,469.8 364.85,482.8" fill="#bc004b"/><polygon points="376.7,467.9 387.95,461.4 387.95,474.4" fill="#bc004b"/><polygon points="399.8,470 411.05,463.5 411.05,476.5" fill="#bc004b"/><polygon points="422.3,500 433.55,493.5 433.55,506.5" fill="#bc004b"/><polygon points="445.5,607.7 456.75,601.2 456.75,614.2" fill="#bc004b"/><polygon points="468.5,607.7 479.75,601.2 479.75,614.2" fill="#bc004b"/></g><polyline points="430,607.7 407,479 383.8,469.7 360.3,478.1 337.8,503.5 315,607.7" fill="none" stroke="#000" stroke-width="1.05" stroke-dasharray="2.1 2.4"/><g stroke="#000" stroke-width="0.8" stroke-linejoin="miter"><polygon points="476,601.8 477.7,604.75 481.11,604.75 479.41,607.7 481.11,610.65 477.7,610.65 476,613.6 474.3,610.65 470.89,610.65 472.59,607.7 470.89,604.75 474.3,604.75" fill="#bc004b"/><polygon points="430,601.8 431.7,604.75 435.11,604.75 433.41,607.7 435.11,610.65 431.7,610.65 430,613.6 428.3,610.65 424.89,610.65 426.59,607.7 424.89,604.75 428.3,604.75" fill="#bc004b"/><polygon points="407,473.1 408.7,476.05 412.11,476.05 410.41,479 412.11,481.95 408.7,481.95 407,484.9 405.3,481.95 401.89,481.95 403.59,479 401.89,476.05 405.3,476.05" fill="#bc004b"/><polygon points="383.8,463.8 385.5,466.75 388.91,466.75 387.21,469.7 388.91,472.65 385.5,472.65 383.8,475.6 382.1,472.65 378.69,472.65 380.39,469.7 378.69,466.75 382.1,466.75" fill="#bc004b"/><polygon points="360.3,472.2 362,475.15 365.41,475.15 363.71,478.1 365.41,481.05 362,481.05 360.3,484 358.6,481.05 355.19,481.05 356.89,478.1 355.19,475.15 358.6,475.15" fill="#bc004b"/><polygon points="337.8,497.6 339.5,500.55 342.91,500.55 341.21,503.5 342.91,506.45 339.5,506.45 337.8,509.4 336.1,506.45 332.69,506.45 334.39,503.5 332.69,500.55 336.1,500.55" fill="#bc004b"/><polygon points="315,601.8 316.7,604.75 320.11,604.75 318.41,607.7 320.11,610.65 316.7,610.65 315,613.6 313.3,610.65 309.89,610.65 311.59,607.7 309.89,604.75 313.3,604.75" fill="#bc004b"/><polygon points="292,601.8 293.7,604.75 297.11,604.75 295.41,607.7 297.11,610.65 293.7,610.65 292,613.6 290.3,610.65 286.89,610.65 288.59,607.7 286.89,604.75 290.3,604.75" fill="#bc004b"/><polygon points="246,601.8 247.7,604.75 251.11,604.75 249.41,607.7 251.11,610.65 247.7,610.65 246,613.6 244.3,610.65 240.89,610.65 242.59,607.7 240.89,604.75 244.3,604.75" fill="#bc004b"/><polygon points="200,601.8 201.7,604.75 205.11,604.75 203.41,607.7 205.11,610.65 201.7,610.65 200,613.6 198.3,610.65 194.89,610.65 196.59,607.7 194.89,604.75 198.3,604.75" fill="#bc004b"/><polygon points="154,601.8 155.7,604.75 159.11,604.75 157.41,607.7 159.11,610.65 155.7,610.65 154,613.6 152.3,610.65 148.89,610.65 150.59,607.7 148.89,604.75 152.3,604.75" fill="#bc004b"/><polygon points="108,601.8 109.7,604.75 113.11,604.75 111.41,607.7 113.11,610.65 109.7,610.65 108,613.6 106.3,610.65 102.89,610.65 104.59,607.7 102.89,604.75 106.3,604.75" fill="#bc004b"/><polygon points="62,601.8 63.7,604.75 67.11,604.75 65.41,607.7 67.11,610.65 63.7,610.65 62,613.6 60.3,610.65 56.89,610.65 58.59,607.7 56.89,604.75 60.3,604.75" fill="#bc004b"/></g><path d="M394.7 8.7L398 0" stroke="#b0102a" stroke-width="1.3" stroke-dasharray="1.6 1.6"/><rect x="76.8" y="17.3" width="171.6" height="168.9" fill="#fff" stroke="#808080" stroke-width="1.1"/><path d="M80.3 29.2H115.5" fill="none" stroke="#222" stroke-width="0.85"/><g stroke="#000" stroke-width="0.8"><polygon points="93.6,24.9 102.2,24.9 102.2,33.5 93.6,33.5" fill="#8fdba6"/></g><path d="M80.3 50H115.5" fill="none" stroke="#000" stroke-width="1.05" stroke-dasharray="2.1 2.4"/><g stroke="#000" stroke-width="0.8"><polygon points="97.9,42.3 103.7,50 97.9,57.7 92.1,50" fill="#8fdba6"/></g><path d="M80.3 70.8H115.5" fill="none" stroke="#222" stroke-width="0.85"/><g stroke="#000" stroke-width="0.8"><polygon points="97.9,63.3 104.4,74.55 91.4,74.55" fill="#eff2a2"/></g><path d="M80.3 91.3H115.5" fill="none" stroke="#000" stroke-width="1.05" stroke-dasharray="2.1 2.4"/><g stroke="#000" stroke-width="0.8"><polygon points="97.9,98.8 91.4,87.55 104.4,87.55" fill="#eff2a2"/></g><path d="M80.3 112.4H115.5" fill="none" stroke="#222" stroke-width="0.85"/><g stroke="#000" stroke-width="0.8"><polygon points="105.4,112.4 94.15,118.9 94.15,105.9" fill="#4664c8"/></g><path d="M80.3 133.1H115.5" fill="none" stroke="#000" stroke-width="1.05" stroke-dasharray="2.1 2.4"/><g stroke="#000" stroke-width="0.8"><polygon points="97.9,127.05 99.26,131.23 103.65,131.23 100.1,133.81 101.46,137.99 97.9,135.41 94.34,137.99 95.7,133.81 92.15,131.23 96.54,131.23" fill="#4664c8"/></g><path d="M80.3 153.7H115.5" fill="none" stroke="#222" stroke-width="0.85"/><g stroke="#000" stroke-width="0.8"><polygon points="90.4,153.7 101.65,147.2 101.65,160.2" fill="#bc004b"/></g><path d="M80.3 174.1H115.5" fill="none" stroke="#000" stroke-width="1.05" stroke-dasharray="2.1 2.4"/><g stroke="#000" stroke-width="0.8"><polygon points="97.9,168.2 99.6,171.15 103.01,171.15 101.31,174.1 103.01,177.05 99.6,177.05 97.9,180 96.2,177.05 92.79,177.05 94.49,174.1 92.79,171.15 96.2,171.15" fill="#bc004b"/></g><g font-size="12.9" fill="#1a1a1a"><text transform="translate(171.2 34.4) scale(1 1.04)">(Increasing)</text><text transform="translate(171.2 55.2) scale(1 1.04)">(Decreasing)</text><text transform="translate(171.2 76.1) scale(1 1.04)">(Increasing)</text><text transform="translate(171.2 96.6) scale(1 1.04)">(Decreasing)</text><text transform="translate(171.2 117.9) scale(1 1.04)">(Increasing)</text><text transform="translate(171.2 138.7) scale(1 1.04)">(Decreasing)</text><text transform="translate(171.2 159.4) scale(1 1.04)">(Increasing)</text><text transform="translate(171.2 180) scale(1 1.04)">(Decreasing)</text></g><g font-size="22.8" font-weight="bold" fill="#111" stroke="#111" stroke-width="0.35"><text transform="translate(129.6 49.1) scale(1 1.04)">F</text><text transform="translate(129.6 88.8) scale(1 1.04)">F2</text><text transform="translate(129.6 130.7) scale(1 1.04)">F3</text><text transform="translate(129.6 171.9) scale(1 1.04)">F4</text></g><polygon points="153.1,32.8 153.1,48.7 149.9,48.7 149.9,37.4 146.0,39.9 146.0,36.9 150.7,32.8" fill="#111"/><g font-size="13.8" fill="#1a1a1a"><text transform="translate(56.3 200.9) scale(1 1.04)" text-anchor="end">0</text><text transform="translate(56.3 154.92) scale(1 1.04)" text-anchor="end">50</text><text transform="translate(56.3 108.95) scale(1 1.04)" text-anchor="end">100</text><text transform="translate(56.3 62.98) scale(1 1.04)" text-anchor="end">150</text><text transform="translate(56.3 17) scale(1 1.04)" text-anchor="end">200</text><text transform="translate(56.3 410.4) scale(1 1.04)" text-anchor="end">0</text><text transform="translate(56.3 373.62) scale(1 1.04)" text-anchor="end">0.5</text><text transform="translate(56.3 336.84) scale(1 1.04)" text-anchor="end">1</text><text transform="translate(56.3 300.06) scale(1 1.04)" text-anchor="end">1.5</text><text transform="translate(56.3 263.28) scale(1 1.04)" text-anchor="end">2</text><text transform="translate(56.3 226.5) scale(1 1.04)" text-anchor="end">2.5</text><text transform="translate(56.3 613.4) scale(1 1.04)" text-anchor="end">0</text><text transform="translate(56.3 552.1) scale(1 1.04)" text-anchor="end">0.05</text><text transform="translate(56.3 490.8) scale(1 1.04)" text-anchor="end">0.1</text><text transform="translate(56.3 429.5) scale(1 1.04)" text-anchor="end">0.15</text><text transform="translate(62 627.1) scale(1 1.04)" text-anchor="middle">0</text><text transform="translate(177 627.1) scale(1 1.04)" text-anchor="middle">2.5</text><text transform="translate(292 627.1) scale(1 1.04)" text-anchor="middle">5</text><text transform="translate(407 627.1) scale(1 1.04)" text-anchor="middle">7.5</text><text transform="translate(522 627.1) scale(1 1.04)" text-anchor="middle">10</text></g><g font-size="15.75" fill="#1a1a1a"><text transform="translate(292.3 646.7) scale(1 1.04)" text-anchor="middle">Wind Speed (m/s)</text><text transform="translate(18.9 95.6) rotate(-90) scale(1 1.04)" text-anchor="middle">Amplitude (°)</text><text transform="translate(17.9 315.3) rotate(-90) scale(1 1.04)" text-anchor="middle">Frequency (Hz)</text><text transform="translate(17.7 515.2) rotate(-90) scale(1 1.04)" text-anchor="middle">Power (mW)</text></g><g font-size="16.5" font-weight="bold" fill="#111"><text transform="translate(3.1 18.2) scale(1 1.04)">(a)</text><text transform="translate(3.1 229.6) scale(1 1.04)">(b)</text><text transform="translate(3.1 430.6) scale(1 1.04)">(c)</text></g></svg></body></html>
